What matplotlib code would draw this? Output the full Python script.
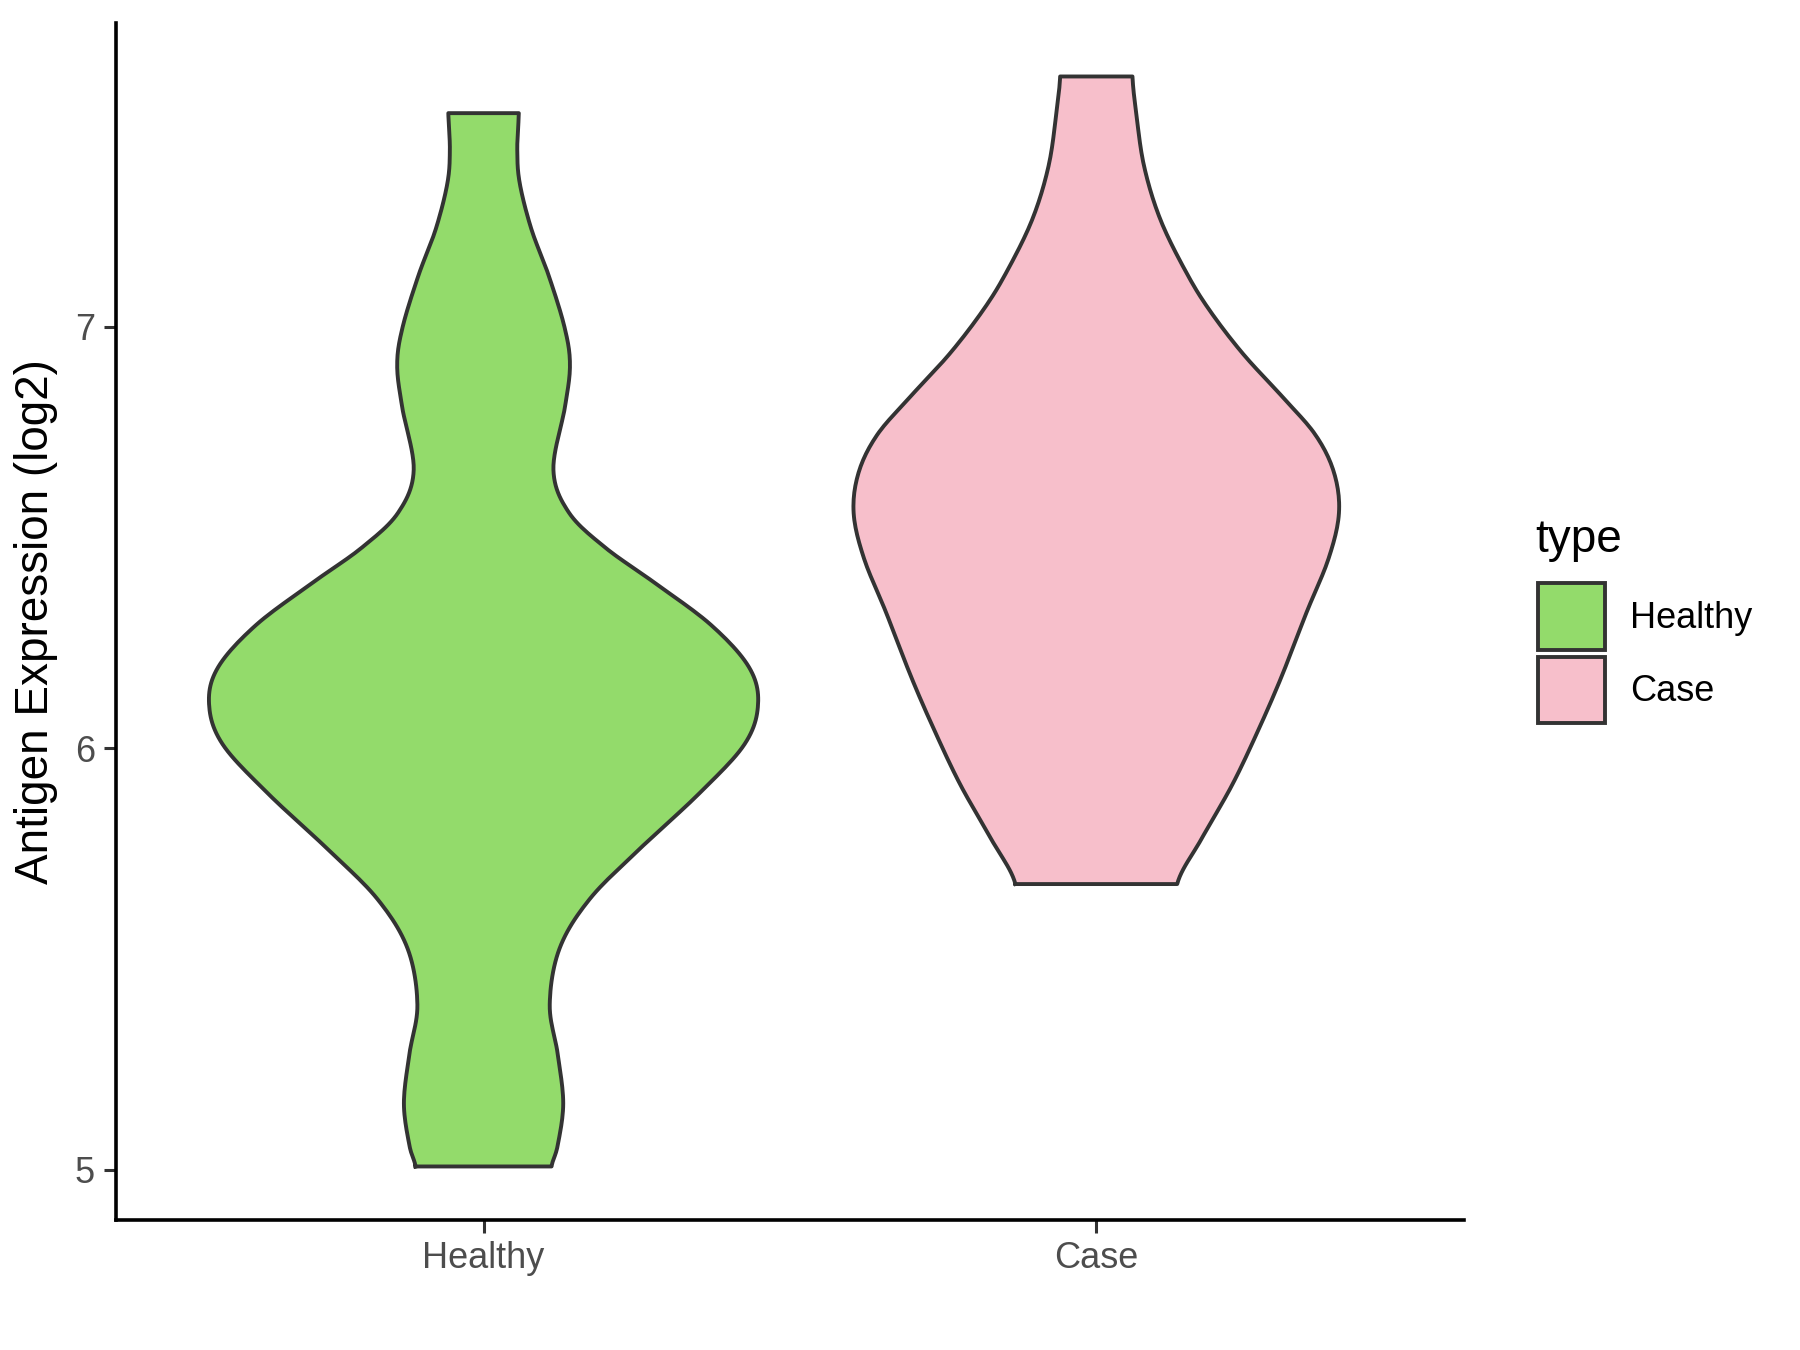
import numpy as np
import matplotlib
matplotlib.use("Agg")
import matplotlib.pyplot as plt
from matplotlib.patches import Patch

plt.rcParams['font.family'] = ['Liberation Sans', 'DejaVu Sans']

# categories and colours
groups = ["Healthy", "Case"]
fill_colors = ["#93DB6B", "#F7BFCB"]

# violin outlines: expression value -> half width (x units)
healthy_y = [5.008, 5.058, 5.158, 5.275, 5.392, 5.525, 5.642, 5.759, 5.893, 6.010,
             6.105, 6.193, 6.293, 6.394, 6.477, 6.560, 6.661, 6.811, 6.911, 7.000,
             7.123, 7.232, 7.341, 7.420, 7.507]
healthy_w = [0.111, 0.121, 0.130, 0.121, 0.108, 0.124, 0.173, 0.253, 0.352, 0.426,
             0.448, 0.433, 0.371, 0.278, 0.198, 0.139, 0.114, 0.133, 0.141, 0.132,
             0.106, 0.078, 0.059, 0.055, 0.0575]

case_y = [5.678, 5.786, 5.914, 6.042, 6.169, 6.322, 6.450, 6.558, 6.654, 6.743,
          6.832, 6.935, 7.037, 7.126, 7.253, 7.381, 7.509, 7.594]
case_w = [0.132, 0.172, 0.222, 0.264, 0.302, 0.343, 0.379, 0.396, 0.388, 0.358,
          0.305, 0.240, 0.186, 0.148, 0.105, 0.078, 0.065, 0.059]

profiles = [(healthy_y, healthy_w), (case_y, case_w)]


def smooth_curve(y, w, n=12):
    # catmull-rom through the read points, just to draw a smooth outline
    y = np.asarray(y, float)
    w = np.asarray(w, float)
    py = np.concatenate([[2 * y[0] - y[1]], y, [2 * y[-1] - y[-2]]])
    pw = np.concatenate([[w[0]], w, [w[-1]]])
    ys, ws = [], []
    t = np.linspace(0, 1, n, endpoint=False)
    for i in range(1, len(py) - 2):
        for arr, out in ((py, ys), (pw, ws)):
            p0, p1, p2, p3 = arr[i - 1], arr[i], arr[i + 1], arr[i + 2]
            out.extend(0.5 * ((2 * p1) + (-p0 + p2) * t
                              + (2 * p0 - 5 * p1 + 4 * p2 - p3) * t ** 2
                              + (-p0 + 3 * p1 - 3 * p2 + p3) * t ** 3))
    ys.append(y[-1])
    ws.append(w[-1])
    return np.array(ys), np.array(ws)


fig = plt.figure(figsize=(18, 13.5), dpi=100)
ax = fig.add_axes([0.0644, 0.0963, 0.7489, 0.8867])

for i, (yv, wv) in enumerate(profiles):
    pos = i + 1
    ys, ws = smooth_curve(yv, wv)
    xs = np.concatenate([pos - ws, (pos + ws)[::-1], [pos - ws[0]]])
    yy = np.concatenate([ys, ys[::-1], [ys[0]]])
    ax.fill(xs, yy, color=fill_colors[i], zorder=2)
    ax.plot(xs, yy, color="#333333", lw=2.8, zorder=3, solid_joinstyle='round')

ax.set_xlim(0.4, 2.6)
ax.set_ylim(4.881, 7.721)
ax.set_xticks([1, 2])
ax.set_xticklabels(groups)
ax.set_yticks([5, 6, 7])
ax.set_yticklabels(["5", "6", "7"])
ax.tick_params(axis='both', labelsize=26, labelcolor="#4D4D4D", color="#333333",
               length=9, width=2.2)
ax.tick_params(axis='x', pad=6)
ax.tick_params(axis='y', pad=6)
for s in ['top', 'right']:
    ax.spines[s].set_visible(False)
for s in ['left', 'bottom']:
    ax.spines[s].set_linewidth(2.6)
    ax.spines[s].set_color("black")
ax.set_ylabel("Antigen Expression (log2)", fontsize=33, labelpad=12)

# legend (title drawn separately so the gap to the keys matches)
handles = [Patch(facecolor=c, edgecolor="#333333", linewidth=2.8) for c in fill_colors]
leg = fig.legend(handles, groups, loc='center left', bbox_to_anchor=(0.8445, 0.516),
                 frameon=False, fontsize=26,
                 handlelength=1.85, handleheight=2.45, labelspacing=0.2,
                 handletextpad=0.7, borderpad=0)
fig.text(0.853, 0.600, "type", fontsize=33, va='center', ha='left')

fig.savefig("out.png", dpi=100)
